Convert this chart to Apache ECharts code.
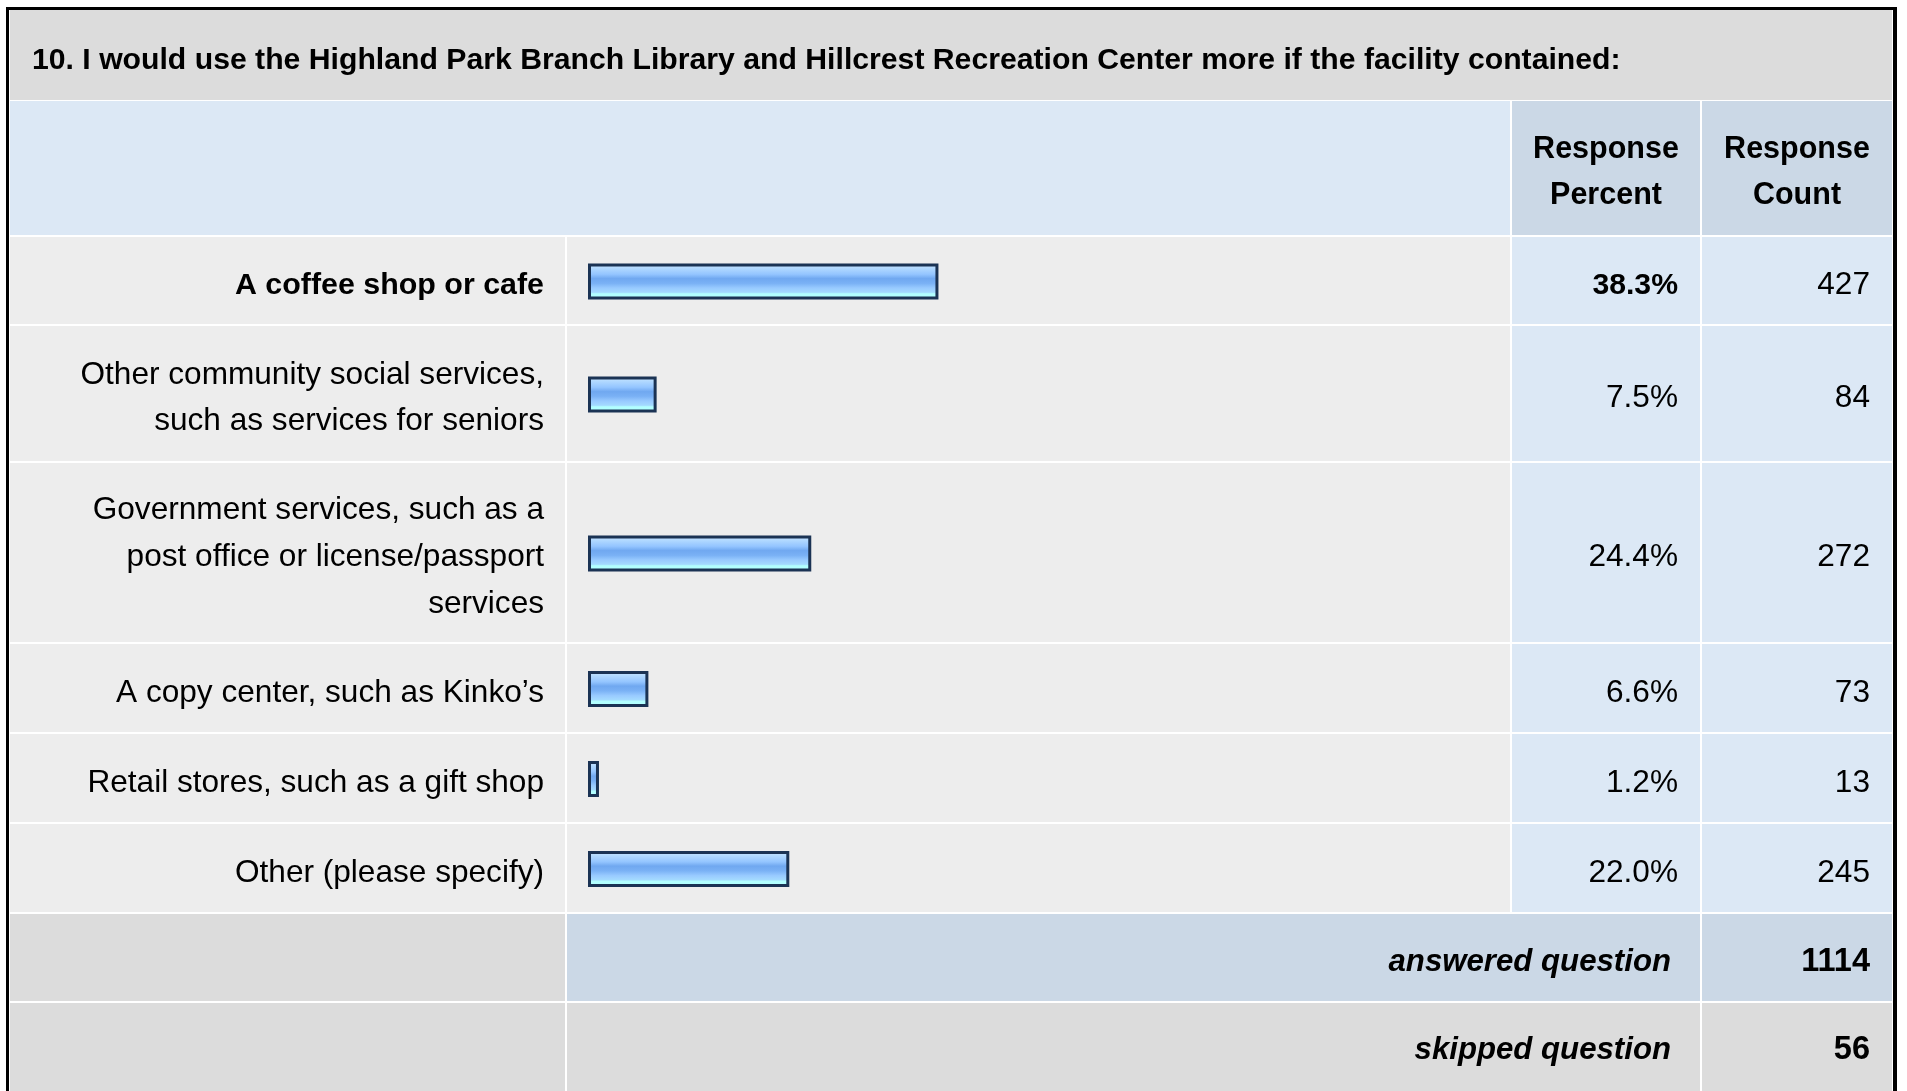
<!DOCTYPE html>
<html>
<head>
<meta charset="utf-8">
<title>Survey question 10</title>
<script src="https://cdn.jsdelivr.net/npm/echarts@6/dist/echarts.min.js"></script>
<style>
  html, body { margin: 0; padding: 0; background: #fff; }
  #chart { width: 1907px; height: 1091px; }
</style>
</head>
<body>
<div id="chart"></div>
<script>
// data
const questionTitle = '10. I would use the Highland Park Branch Library and Hillcrest Recreation Center more if the facility contained:';
const categories = [
  'A coffee shop or cafe',
  'Other community social services,\nsuch as services for seniors',
  'Government services, such as a\npost office or license/passport\nservices',
  'A copy center, such as Kinko’s',
  'Retail stores, such as a gift shop',
  'Other (please specify)'
];
const percents = [38.3, 7.5, 24.4, 6.6, 1.2, 22.0];
const counts = [427, 84, 272, 73, 13, 245];
const answeredCount = 1114;
const skippedCount = 56;

// table layout (pixels)
const FONT = '"Liberation Sans", Arial, Helvetica, sans-serif';
const colLabel = [10, 565];
const colBar = [567, 1510];
const colPct = [1512, 1700];
const colCnt = [1702, 1892];
const titleBand = [10, 100];
const headerBand = [101, 235];
const rowBands = [[237, 324], [326, 461], [463, 642], [644, 732], [734, 822], [824, 912]];
const answeredBand = [914, 1001];
const skippedBand = [1003, 1100];
const barLeft = 588;
const barSpan = 915;   // 100 %

const chart = echarts.init(document.getElementById('chart'));

function cell(x0, x1, y0, y1, fill) {
  return { type: 'rect', z: -10, shape: { x: x0, y: y0, width: x1 - x0, height: y1 - y0 }, style: { fill: fill } };
}
function txt(text, x, y, align, weight, size, style, lh) {
  return {
    type: 'text', z: 10, x: x, y: y,
    style: {
      text: text, fill: '#000',
      font: (style || 'normal') + ' ' + (weight || 'normal') + ' ' + size + 'px ' + FONT,
      textAlign: align, textVerticalAlign: 'middle', lineHeight: lh || 46
    }
  };
}

const graphics = [];
// outer frame
graphics.push({ type: 'rect', z: -20, shape: { x: 6, y: 7, width: 1891, height: 1100 }, style: { fill: '#000' } });
graphics.push({ type: 'rect', z: -19, shape: { x: 9, y: 10, width: 1884, height: 1100 }, style: { fill: '#fff' } });
graphics.push(cell(colLabel[0], colCnt[1], titleBand[0], titleBand[1], '#dcdcdc'));
graphics.push(cell(colLabel[0], colBar[1], headerBand[0], headerBand[1], '#dce8f5'));
graphics.push(cell(colPct[0], colPct[1], headerBand[0], headerBand[1], '#cbd8e6'));
graphics.push(cell(colCnt[0], colCnt[1], headerBand[0], headerBand[1], '#cbd8e6'));
rowBands.forEach(function (r) {
  graphics.push(cell(colLabel[0], colLabel[1], r[0], r[1], '#ededed'));
  graphics.push(cell(colBar[0], colBar[1], r[0], r[1], '#ededed'));
  graphics.push(cell(colPct[0], colPct[1], r[0], r[1], '#dce8f5'));
  graphics.push(cell(colCnt[0], colCnt[1], r[0], r[1], '#dce8f5'));
});
graphics.push(cell(colLabel[0], colLabel[1], answeredBand[0], answeredBand[1], '#dcdcdc'));
graphics.push(cell(colBar[0], colPct[1], answeredBand[0], answeredBand[1], '#cbd8e6'));
graphics.push(cell(colCnt[0], colCnt[1], answeredBand[0], answeredBand[1], '#cbd8e6'));
graphics.push(cell(colLabel[0], colLabel[1], skippedBand[0], skippedBand[1], '#dcdcdc'));
graphics.push(cell(colBar[0], colPct[1], skippedBand[0], skippedBand[1], '#dcdcdc'));
graphics.push(cell(colCnt[0], colCnt[1], skippedBand[0], skippedBand[1], '#dcdcdc'));

// texts
graphics.push(txt(questionTitle, 32, 61, 'left', 'bold', 30.2));
const headMid = (headerBand[0] + headerBand[1]) / 2 + 5;
graphics.push(txt('Response\nPercent', (colPct[0] + colPct[1]) / 2, headMid, 'center', 'bold', 30.5));
graphics.push(txt('Response\nCount', (colCnt[0] + colCnt[1]) / 2, headMid, 'center', 'bold', 30.5));
rowBands.forEach(function (r, i) {
  const mid = (r[0] + r[1]) / 2 + 5;
  const bold = i === 0;
  const lines = categories[i].split('\n').length;
  graphics.push(txt(categories[i], 544, mid, 'right', bold ? 'bold' : 'normal', bold ? 30.4 : 31.6, null, lines > 2 ? 47 : 46));
  graphics.push(txt(percents[i].toFixed(1) + '%', colPct[1] - 22, mid, 'right', bold ? 'bold' : 'normal', bold ? 30.2 : 31.6));
  graphics.push(txt(String(counts[i]), colCnt[1] - 22, mid, 'right', 'normal', 31.6));
});
const ansMid = (answeredBand[0] + answeredBand[1]) / 2 + 5;
graphics.push(txt('answered question', colPct[1] - 29, ansMid, 'right', 'bold', 31.2, 'italic'));
graphics.push(txt(String(answeredCount), colCnt[1] - 22, ansMid, 'right', 'bold', 32.5));
graphics.push(txt('skipped question', colPct[1] - 29, 1050, 'right', 'bold', 31.2, 'italic'));
graphics.push(txt(String(skippedCount), colCnt[1] - 22, 1050, 'right', 'bold', 32.5));

// one grid per table row so the bars sit in rows of different height
const grids = [], xAxes = [], yAxes = [], series = [];
const barFill = new echarts.graphic.LinearGradient(0, 0, 0, 1, [
  { offset: 0, color: '#cfe8ff' },
  { offset: 0.14, color: '#b0d8ff' },
  { offset: 0.3, color: '#94c5ff' },
  { offset: 0.42, color: '#70a8f0' },
  { offset: 0.55, color: '#7ab1f5' },
  { offset: 0.68, color: '#98caff' },
  { offset: 0.8, color: '#a4daff' },
  { offset: 0.84, color: '#b2ffff' },
  { offset: 1, color: '#b2ffff' }
]);
rowBands.forEach(function (r, i) {
  grids.push({ left: barLeft, width: barSpan, top: r[0] + 1, height: r[1] - r[0] });
  xAxes.push({ gridIndex: i, type: 'value', min: 0, max: 100, show: false });
  yAxes.push({
    gridIndex: i, type: 'category', data: [categories[i]],
    axisLine: { show: false }, axisTick: { show: false }, axisLabel: { show: false }
  });
  series.push({
    type: 'bar', name: categories[i], xAxisIndex: i, yAxisIndex: i, barWidth: 36,
    data: [percents[i]], silent: true,
    itemStyle: { color: barFill, borderColor: '#1b3354', borderWidth: 3 }
  });
});

chart.setOption({
  animation: false,
  graphic: { elements: graphics },
  grid: grids,
  xAxis: xAxes,
  yAxis: yAxes,
  series: series
});
</script>
</body>
</html>
